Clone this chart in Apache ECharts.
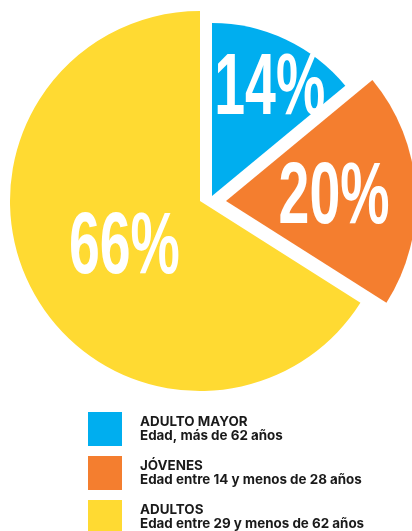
<!DOCTYPE html>
<html>
<head>
<meta charset="utf-8">
<script src="https://cdn.jsdelivr.net/npm/echarts@6/dist/echarts.min.js"></script>
<style>
html,body{margin:0;padding:0;background:#fff;}
#c{width:412px;height:531px;}
</style>
</head>
<body>
<div id="c"></div>
<script>
const categories = ['ADULTO MAYOR', 'JÓVENES', 'ADULTOS'];
const subtitles = ['Edad, más de 62 años', 'Edad entre 14 y menos de 28 años', 'Edad entre 29 y menos de 62 años'];
const values = [14, 20, 66];
const colors = ['#00AEEF', '#F47E2F', '#FFDA32'];

const total = values.reduce((a, b) => a + b, 0);
function midAngle(i) {
  let before = 0;
  for (let k = 0; k < i; k++) before += values[k];
  return (before + values[i] / 2) / total * 2 * Math.PI;
}

// one pie layer per slice (drawn order: yellow, orange, blue), each slightly pulled apart
const layers = [
  { idx: 2, center: [200, 201], radius: 190, ratio: 0.46, nudge: [1, 0] },
  { idx: 1, center: [226, 201], radius: 190, ratio: 0.57, nudge: [0, -1] },
  { idx: 0, center: [212, 196], radius: 173, ratio: 0.73, nudge: [4, 3] }
];

const LABEL_FONT_SIZE = 88;
const LABEL_SCALE_X = 0.63;

const series = layers.map(L => ({
  type: 'pie',
  center: L.center,
  radius: [0, L.radius],
  startAngle: 90,
  clockwise: true,
  silent: true,
  emphasis: { disabled: true },
  itemStyle: { borderWidth: 0 },
  labelLine: { show: false },
  label: { show: false },
  data: categories.map((name, i) => ({
    name: name,
    value: values[i],
    itemStyle: { color: i === L.idx ? colors[i] : 'rgba(0,0,0,0)' }
  }))
}));

// condensed percentage labels, placed along each slice's mid angle
const labelGraphics = layers.map(L => {
  const a = midAngle(L.idx);
  const d = L.ratio * L.radius;
  return {
    type: 'text',
    silent: true,
    x: L.center[0] + d * Math.sin(a) + L.nudge[0],
    y: L.center[1] - d * Math.cos(a) + LABEL_FONT_SIZE * 0.06 + L.nudge[1],
    scaleX: LABEL_SCALE_X,
    z: 100,
    style: {
      text: values[L.idx] + '%',
      fill: '#ffffff',
      font: 'bold ' + LABEL_FONT_SIZE + 'px "Liberation Sans", Arial, sans-serif',
      align: 'center',
      verticalAlign: 'middle'
    }
  };
});

const chart = echarts.init(document.getElementById('c'));
chart.setOption({
  animation: false,
  backgroundColor: '#ffffff',
  graphic: labelGraphics,
  legend: {
    orient: 'vertical',
    left: 83,
    top: 407,
    height: 150,
    icon: 'rect',
    itemWidth: 34,
    itemHeight: 34,
    itemGap: 10,
    selectedMode: false,
    data: categories.map((name, i) => ({ name: name, itemStyle: { color: colors[i] } })),
    formatter: function (name) {
      const i = categories.indexOf(name);
      return '{t|' + name + '}\n{s|' + subtitles[i] + '}';
    },
    textStyle: {
      padding: [0, 0, 0, 13],
      rich: {
        t: { fontFamily: 'Inter, sans-serif', fontWeight: 'bold', fontSize: 13.4, color: '#1a1a1a', lineHeight: 14 },
        s: { fontFamily: 'Inter, sans-serif', fontWeight: 'bold', fontSize: 13.4, color: '#1a1a1a', lineHeight: 14 }
      }
    }
  },
  series: series
});
</script>
</body>
</html>
